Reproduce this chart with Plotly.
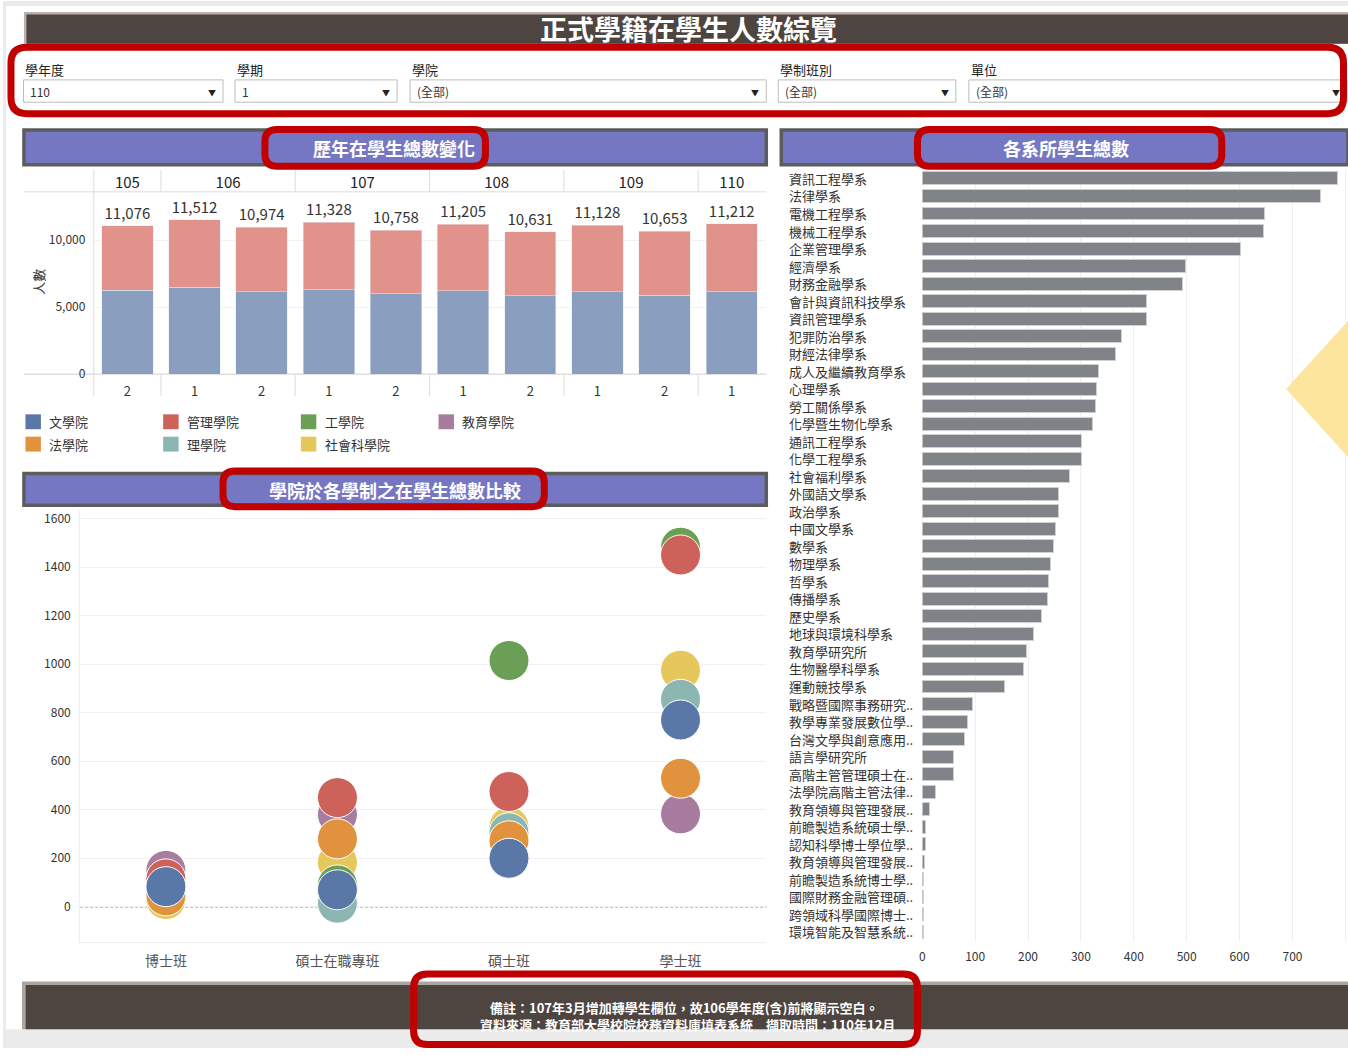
import plotly.graph_objects as go

W, H = 1348, 1055
FONT = "Noto Sans CJK TC, Noto Sans, sans-serif"

# ---------------- data: yearly totals ----------------
term_years = ['105', '106', '106', '107', '107', '108', '108', '109', '109', '110']
term_sems = ['2', '1', '2', '1', '2', '1', '2', '1', '2', '1']
term_totals = [11076, 11512, 10974, 11328, 10758, 11205, 10631, 11128, 10653, 11212]
seg_lower = [6250, 6495, 6162, 6315, 6020, 6228, 5868, 6152, 5880, 6133]
seg_upper = [4826, 5017, 4812, 5013, 4738, 4977, 4763, 4976, 4773, 5079]

# ---------------- data: college x level ----------------
levels = ['博士班', '碩士在職專班', '碩士班', '學士班']
colleges = ['文學院', '管理學院', '工學院', '教育學院', '法學院', '理學院', '社會科學院']
vals_wen = [83, 70, 200, 770]
vals_mgmt = [115, 450, 475, 1450]
vals_eng = [60, 90, 1015, 1482]
vals_edu = [150, 380, 290, 383]
vals_law = [45, 280, 272, 530]
vals_sci = [70, 15, 305, 855]
vals_soc = [30, 183, 330, 975]

# ---------------- data: departments ----------------
dept_names = ['資訊工程學系', '法律學系', '電機工程學系', '機械工程學系', '企業管理學系', '經濟學系',
              '財務金融學系', '會計與資訊科技學系', '資訊管理學系', '犯罪防治學系', '財經法律學系',
              '成人及繼續教育學系', '心理學系', '勞工關係學系', '化學暨生物化學系', '通訊工程學系',
              '化學工程學系', '社會福利學系', '外國語文學系', '政治學系', '中國文學系', '數學系',
              '物理學系', '哲學系', '傳播學系', '歷史學系', '地球與環境科學系', '教育學研究所',
              '生物醫學科學系', '運動競技學系', '戰略暨國際事務研究..', '教學專業發展數位學..',
              '台灣文學與創意應用..', '語言學研究所', '高階主管管理碩士在..', '法學院高階主管法律..',
              '教育領導與管理發展..', '前瞻製造系統碩士學..', '認知科學博士學位學..', '教育領導與管理發展..',
              '前瞻製造系統博士學..', '國際財務金融管理碩..', '跨領域科學國際博士..', '環境智能及智慧系統..']
dept_values = [786, 753, 647, 645, 601, 497, 493, 424, 424, 376, 365, 334, 330, 327, 321, 301, 301,
               279, 257, 257, 252, 248, 243, 239, 237, 226, 211, 197, 191, 156, 95, 85, 80, 60, 59,
               26, 14, 6, 6, 4, 2, 2, 2, 2]

filter_labels = ['學年度', '學期', '學院', '學制班別', '單位']
filter_values = ['110', '1', '(全部)', '(全部)', '(全部)']

college_colors = {'文學院': '#5a78a7', '管理學院': '#cc6259', '工學院': '#6a9f55', '教育學院': '#a77c9f',
                  '法學院': '#e0923c', '理學院': '#8bb6b1', '社會科學院': '#e5c75b'}
college_series = {'文學院': vals_wen, '管理學院': vals_mgmt, '工學院': vals_eng, '教育學院': vals_edu,
                  '法學院': vals_law, '理學院': vals_sci, '社會科學院': vals_soc}
draw_order = ['教育學院', '社會科學院', '理學院', '工學院', '管理學院', '法學院', '文學院']


def PX(x):
    return min(max(x, 0), W) / W


def PY(y):
    return 1 - min(max(y, 0), H) / H


shapes = []
annotations = []


def rect(x0, y0, x1, y1, fill=None, line=None, lw=0, layer='below'):
    shapes.append(dict(type='rect', xref='paper', yref='paper', x0=PX(x0), x1=PX(x1), y0=PY(y1), y1=PY(y0),
                       fillcolor=fill if fill else 'rgba(0,0,0,0)',
                       line=dict(color=line if line else 'rgba(0,0,0,0)', width=lw), layer=layer))


def hline(x0, x1, y, color, w=1):
    shapes.append(dict(type='line', xref='paper', yref='paper', x0=PX(x0), x1=PX(x1), y0=PY(y), y1=PY(y),
                       line=dict(color=color, width=w), layer='below'))


def text(x, y, s, size=12, color='#333', bold=False, xanchor='left', angle=0):
    annotations.append(dict(xref='paper', yref='paper', x=PX(x), y=PY(y), text=('<b>%s</b>' % s) if bold else s,
                            showarrow=False, xanchor=xanchor, yanchor='middle', textangle=angle,
                            font=dict(family=FONT, size=size, color=color)))


def round_box(x0, y0, x1, y1, r=14, color='#c00000', w=7):
    rx, ry = r / W, r / H
    a, b, c, d = PX(x0), PX(x1), PY(y0), PY(y1)
    p = (f"M {a+rx},{c} L {b-rx},{c} Q {b},{c} {b},{c-ry} L {b},{d+ry} Q {b},{d} {b-rx},{d} "
         f"L {a+rx},{d} Q {a},{d} {a},{d+ry} L {a},{c-ry} Q {a},{c} {a+rx},{c} Z")
    shapes.append(dict(type='path', xref='paper', yref='paper', path=p, line=dict(color=color, width=w),
                       fillcolor='rgba(0,0,0,0)', layer='above'))


# page background bands
rect(0, 0, W, 5, fill='#ebebeb')
rect(0, 0, 3, H, fill='#ebebeb')
rect(0, 1036, W, H, fill='#ebebeb')

# header
rect(21, 11, W, 43, fill='#b8b1ad')
rect(23.5, 13.5, W, 43, fill='#4e4541')
text(687, 28, '正式學籍在學生人數綜覽', size=27, color='white', bold=True, xanchor='center')

# filters
box_x = [(20.5, 220.5), (232.5, 395), (408, 765), (777, 955), (968, 1347)]
for (x0, x1), lab, val in zip(box_x, filter_labels, filter_values):
    text(x0, 69, lab, size=13, color='#222')
    rect(x0, 79.5, x1, 102, fill='white', line='#bdbdbd', lw=1)
    text(x0 + 5, 91, val, size=12, color='#333')
    text(x1 - 11, 92, '▼', size=8, color='#222', xanchor='center')
round_box(8, 46.5, 1343.5, 113.5, r=16)

# section bands
for (x0, x1, y0, y1, title, cx) in [(21, 765, 130, 165, '歷年在學生總數變化', 392),
                                     (780, W, 130, 165, '各系所學生總數', 1065),
                                     (21, 765, 476, 508, '學院於各學制之在學生總數比較', 393)]:
    rect(x0, y0, x1, y1, fill='#7577c3', line='#5c5c5c', lw=3.5)
    text(cx, (y0 + y1) / 2 + 1, title, size=18, color='white', bold=True, xanchor='center')
round_box(262.5, 129.5, 483.5, 166.5, r=12)
round_box(916.5, 129.5, 1221.5, 166.5, r=12)
round_box(220.5, 473.5, 542.5, 509.5, r=12)

# bar chart table lines
hline(21, 765, 192.3, '#dddddd')
hline(21, 765, 376, '#cfcfcf')
shapes.append(dict(type='line', xref='paper', yref='paper', x0=PX(91), x1=PX(91), y0=PY(398), y1=PY(170),
                   line=dict(color='#dddddd', width=1), layer='below'))
idx = list(range(len(term_years)))
for i in range(1, len(term_years)):
    if term_years[i] != term_years[i - 1]:
        for (ya, yb) in [(170, 192.3), (376, 398)]:
            shapes.append(dict(type='line', xref='x', yref='paper', x0=i - 0.5, x1=i - 0.5, y0=PY(yb), y1=PY(ya),
                               line=dict(color='#dddddd', width=1), layer='below'))
years = []
for yv in term_years:
    if yv not in years:
        years.append(yv)
year_centers = []
for yv in years:
    ii = [i for i, t in enumerate(term_years) if t == yv]
    year_centers.append(sum(ii) / len(ii))

text(36, 283, '人數', size=13, color='#333', xanchor='center', angle=-90)

# legend (manual, for college colours)
leg_pos = [(22.5, 424), (160.5, 424), (298.5, 424), (436.5, 424), (22.5, 446.5), (160.5, 446.5), (298.5, 446.5)]
for (lx, ly), c in zip(leg_pos, colleges):
    rect(lx, ly - 7.5, lx + 15.5, ly + 7.5, fill=college_colors[c])
    text(lx + 22, ly, c, size=13, color='#333')

# yellow decoration (kept inside the canvas)
shapes.append(dict(type='path', xref='paper', yref='paper',
                   path=(f"M {PX(1286)},{PY(391)} L {PX(1348)},{PY(322.5)} L {PX(1348)},{PY(459.5)} Z"),
                   fillcolor='#fde59e', line=dict(width=0), layer='above'))

# footer
rect(19, 988, W, 1036, fill='#aca6a2')
rect(22.7, 991.5, W, 1036, fill='#4e4541')
text(683, 1014, '備註：107年3月增加轉學生欄位，故106學年度(含)前將顯示空白。', size=13, color='white', bold=True, xanchor='center')
text(686, 1031, '資料來源：教育部大學校院校務資料庫填表系統　擷取時間：110年12月', size=13, color='white', bold=True, xanchor='center')
round_box(411.5, 980.5, 916.5, 1051.5, r=14)

# scatter zero reference line
shapes.append(dict(type='line', xref='x3 domain', yref='y3', x0=0, x1=1, y0=0, y1=0,
                   line=dict(color='#222', width=1, dash='3px,2px'), layer='below'))

# department labels
for i, n in enumerate(dept_names):
    annotations.append(dict(xref='paper', yref='y4', x=PX(786), y=i, text=n, showarrow=False, xanchor='left',
                            yanchor='middle', font=dict(family=FONT, size=13, color='#333')))

fig = go.Figure()

# stacked yearly bars
fig.add_trace(go.Bar(x=idx, y=seg_lower, marker=dict(color='#8a9fc0'), width=0.765, xaxis='x', yaxis='y',
                     showlegend=False, hoverinfo='skip'))
fig.add_trace(go.Bar(x=idx, y=seg_upper, marker=dict(color='#e1928a'), width=0.765, xaxis='x', yaxis='y',
                     text=term_totals, texttemplate='%{text:,}', textposition='outside', cliponaxis=False,
                     textfont=dict(family=FONT, size=15, color='#333'), showlegend=False, hoverinfo='skip'))
# invisible trace to activate top axis
fig.add_trace(go.Scatter(x=year_centers, y=[None] * len(year_centers), xaxis='x2', yaxis='y', showlegend=False,
                         mode='markers', hoverinfo='skip'))

# college bubbles
for c in draw_order:
    fig.add_trace(go.Scatter(x=levels, y=college_series[c], mode='markers', name=c, xaxis='x3', yaxis='y3',
                             marker=dict(size=40, color=college_colors[c], line=dict(color='white', width=1)),
                             showlegend=False))

# departments
fig.add_trace(go.Bar(x=dept_values, y=list(range(len(dept_names))), orientation='h', width=0.74,
                     marker=dict(color='#808489', line=dict(color='#d0d0d0', width=1)),
                     xaxis='x4', yaxis='y4', showlegend=False))

tf = dict(family=FONT, size=12, color='#333')
clear = 'rgba(0,0,0,0)'
fig.update_layout(
    width=W, height=H, margin=dict(l=0, r=0, t=0, b=0), paper_bgcolor='white', plot_bgcolor='rgba(0,0,0,0)',
    barmode='stack', font=dict(family=FONT), shapes=shapes, annotations=annotations,
    xaxis=dict(domain=[PX(91), PX(764)], range=[-0.5, 9.5], tickvals=idx, ticktext=term_sems, showgrid=False,
               zeroline=False, showline=False, ticks='outside', ticklen=5, tickcolor=clear,
               tickfont=dict(family=FONT, size=13, color='#333'), anchor='y'),
    xaxis2=dict(overlaying='x', side='top', range=[-0.5, 9.5], tickvals=year_centers, ticktext=years,
                showgrid=False, zeroline=False, ticks='', tickfont=dict(family=FONT, size=15, color='#222'),
                anchor='y'),
    yaxis=dict(domain=[PY(376), PY(192.3)], range=[0, 13610], tickvals=[0, 5000, 10000], tickformat=',',
               gridcolor='#f1f1f1', zeroline=False, tickfont=tf, anchor='x', ticks='outside', ticklen=5,
               tickcolor=clear),
    xaxis3=dict(domain=[PX(77.3), PX(765)], type='category', categoryorder='array', categoryarray=levels,
                range=[-0.5, 3.5], showgrid=False, zeroline=False, ticks='outside', ticklen=6, tickcolor=clear,
                tickfont=dict(family=FONT, size=14, color='#555'), anchor='y3', showline=True,
                linecolor='#eeeeee'),
    yaxis3=dict(domain=[PY(948.3), PY(513)], range=[-145.6, 1635], tickvals=list(range(0, 1601, 200)),
                gridcolor='#f1f1f1', zeroline=False, tickfont=tf, anchor='x3', showline=True, linecolor='#eeeeee',
                ticks='outside', ticklen=6, tickcolor=clear),
    xaxis4=dict(domain=[PX(921.3), 1], range=[0, 805], tickvals=list(range(0, 801, 100)), gridcolor='#efefef',
                zeroline=False, tickfont=tf, anchor='y4', ticks='outside', ticklen=5, tickcolor=clear),
    yaxis4=dict(domain=[PY(946.7), PY(170)], range=[43.5, -0.5], showticklabels=False, showgrid=False,
                zeroline=False, anchor='x4'),
)

fig.write_html("out.html", config={'displayModeBar': False},
               post_script="document.body.style.margin='0';")
